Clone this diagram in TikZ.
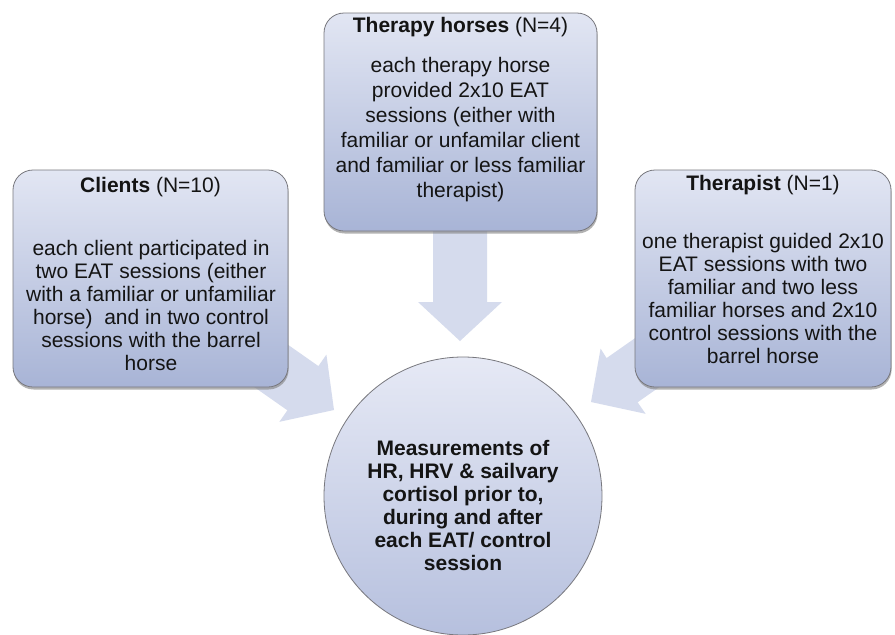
\documentclass[tikz,border=0pt]{standalone}
\usepackage{fontspec}
\setmainfont{Liberation Sans}
\usetikzlibrary{shadows}
\definecolor{boxtop}{RGB}{226,230,243}
\definecolor{boxbot}{RGB}{168,180,214}
\definecolor{circtop}{RGB}{230,233,245}
\definecolor{circbot}{RGB}{182,192,222}
\definecolor{arrowfill}{RGB}{213,219,237}
\definecolor{edge}{RGB}{120,120,126}
\definecolor{txt}{RGB}{20,20,20}
\begin{document}
\begin{tikzpicture}[x=1pt,y=-1pt,
  box/.style={draw=edge, line width=0.8pt, rounded corners=20pt,
    top color=boxtop, bottom color=boxbot,
    drop shadow={shadow xshift=0.6pt, shadow yshift=-2.5pt, opacity=0.6}},
  circ/.style={circle, draw=edge, line width=0.8pt, top color=circtop, bottom color=circbot},
  blockarrow/.style={fill=arrowfill, draw=none},
  body/.style={align=center, text=txt, inner sep=0pt, font=\fontsize{21}{23}\selectfont},
  title/.style={text=txt, inner sep=0pt, font=\fontsize{21}{23}\selectfont}]
\useasboundingbox (0,0) rectangle (895,635);
\fill[white] (0,0) rectangle (895,635);

% block arrows (behind boxes)
\fill[blockarrow] (433,225) -- (433,302) -- (418,302) -- (460,341) -- (502,302) -- (487,302) -- (487,225) -- cycle;
\fill[blockarrow] (261.1,325.9) -- (318.4,366.1) -- (326.4,354.6) -- (334,410) -- (279.4,421.8) -- (287.4,410.3) -- (230.1,370.1) -- cycle;
\fill[blockarrow] (663.9,317.9) -- (606.6,358.1) -- (600.6,348.6) -- (591,402) -- (645.6,413.8) -- (637.6,402.3) -- (694.9,362.1) -- cycle;

% boxes
\node[box, minimum width=273pt, minimum height=218pt] (horses) at (460.5,122) {};
\node[box, minimum width=275pt, minimum height=217pt] (clients) at (150.5,278.5) {};
\node[box, minimum width=256pt, minimum height=217pt] (therapist) at (763,278.5) {};
\node[circ, minimum size=278pt] (meas) at (463,496) {};

% texts
\node[title] (horsesT) at (460.5,27) {\textbf{Therapy horses} (N=4)};
\node[body, font=\fontsize{21}{25}\selectfont] (horsesB) at (460.5,130) {each therapy horse\\provided 2x10 EAT\\sessions (either with\\familiar or unfamilar client\\and familiar or less familiar\\therapist)};

\node[title] (clientsT) at (150.5,187) {\textbf{Clients} (N=10)};
\node[body] (clientsB) at (151,305) {each client participated in\\two EAT sessions (either\\with a familiar or unfamiliar\\horse)\ \ and in two control\\sessions with the barrel\\horse};

\node[title] (therapistT) at (763,185) {\textbf{Therapist} (N=1)};
\node[body] (therapistB) at (763,298) {one therapist guided 2x10\\EAT sessions with two\\familiar and two less\\familiar horses and 2x10\\control sessions with the\\barrel horse};

\node[body, font=\bfseries\fontsize{21}{23}\selectfont] (measB) at (463,505) {Measurements of\\HR, HRV \& sailvary\\cortisol prior to,\\during and after\\each EAT/ control\\session};
\end{tikzpicture}
\end{document}
